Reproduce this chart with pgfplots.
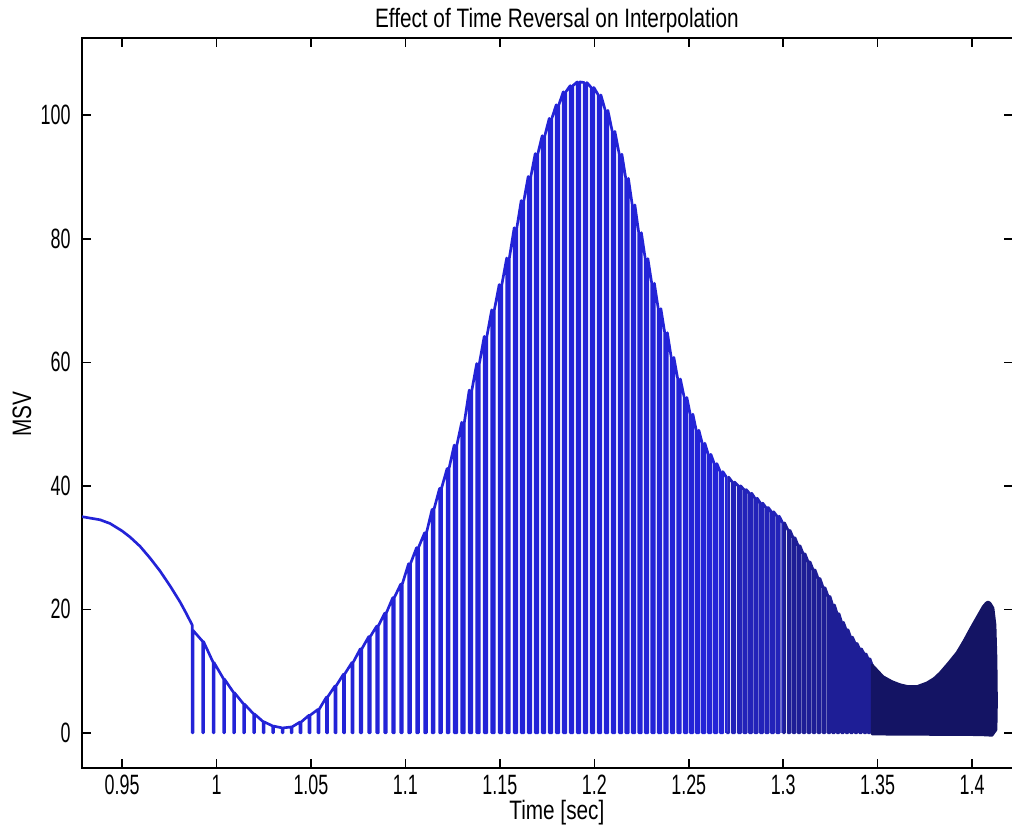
\documentclass[border=0pt]{standalone}
\usepackage{pgfplots}
\pgfplotsset{compat=1.18}
\usepackage{fontspec}
\setmainfont{Liberation Sans}[FakeStretch=0.78]
\newfontfamily\tickfont{Liberation Sans}[FakeStretch=0.64]
\definecolor{blueA}{RGB}{35,35,215}
\definecolor{blueB}{RGB}{35,35,185}
\definecolor{blueC}{RGB}{30,30,150}
\definecolor{navy}{RGB}{20,20,100}
\begin{document}
\begin{tikzpicture}
\path[use as bounding box] (-30.8pt,-22.1pt) rectangle (349.2pt,288.4pt);
\begin{axis}[
  scale only axis, width=349.6pt, height=274.1pt,
  xmin=0.9288, xmax=1.4217, ymin=-5.7, ymax=112.5,
  xtick={0.95,1,1.05,1.1,1.15,1.2,1.25,1.3,1.35,1.4},
  ytick={0,20,40,60,80,100},
  scaled ticks=false,
  /pgf/number format/assume math mode=true,
  tick align=inside, major tick length=3.5pt,
  axis line style={line width=0.6pt},
  tick style={line width=0.6pt, black},
  tick label style={font=\tickfont\fontsize{10.5}{12}\selectfont},
  xticklabel style={anchor=base, yshift=-10.1pt, inner sep=0pt},
  yticklabel style={anchor=east, xshift=-4.1pt, inner sep=0pt},
  title={Effect of Time Reversal on Interpolation},
  every axis title/.style={at={(axis description cs:0.51,1.0139)}, anchor=base, inner sep=0pt, font=\fontsize{10}{12}\selectfont},
  xlabel={Time [sec]},
  xlabel style={at={(axis description cs:0.51,-0.0700)}, anchor=base, inner sep=0pt, font=\fontsize{10}{12}\selectfont},
  ylabel={MSV},
  ylabel style={at={(axis description cs:-0.0644,0.485)}, anchor=center, inner sep=0pt, font=\fontsize{10}{12}\selectfont},
]
% segment A
\addplot[color=blueA, line width=1pt, line join=round] coordinates {
(0.9288,35.0) (0.93835,34.5) (0.94365,33.9) (0.95,32.7) (0.95424,31.7) (0.95953,30.2) (0.96482,28.3) (0.97012,26.2) (0.97541,23.8) (0.9807,21.2) (0.98388,19.4) (0.98715,17.45)
(0.98715,0) (0.98755,0) (0.98755,16.6)
(0.99268,14.8) (0.99268,0) (0.99308,0) (0.99308,14.8)
(0.99824,11.4) (0.99824,0) (0.99864,0) (0.99864,11.4)
(1.00380,8.7) (1.00380,0) (1.00420,0) (1.00420,8.7)
(1.00909,6.5) (1.00909,0) (1.00949,0) (1.00949,6.5)
(1.01438,4.65) (1.01438,0) (1.01478,0) (1.01478,4.65)
(1.01968,3.05) (1.01968,0) (1.02008,0) (1.02008,3.05)
(1.02471,1.8) (1.02471,0) (1.02511,0) (1.02511,1.8)
(1.02974,1.1) (1.02974,0) (1.03014,0) (1.03014,1.1)
(1.03477,0.8) (1.03477,0) (1.03517,0) (1.03517,0.8)
(1.03953,0.95) (1.03953,0) (1.03993,0) (1.03993,0.95)
(1.04419,1.75) (1.04419,0) (1.04479,0) (1.04479,1.75)
(1.04896,2.85) (1.04896,0) (1.04956,0) (1.04956,2.85)
(1.05372,3.8) (1.05372,0) (1.05432,0) (1.05432,3.8)
(1.05822,5.8) (1.05822,0) (1.05882,0) (1.05882,5.8)
(1.06272,7.6) (1.06272,0) (1.06332,0) (1.06332,7.6)
(1.06722,9.5) (1.06722,0) (1.06782,0) (1.06782,9.5)
(1.07172,11.4) (1.07172,0) (1.07232,0) (1.07232,11.4)
(1.07612,13.6) (1.07612,0) (1.07692,0) (1.07692,13.6)
(1.08062,15.6) (1.08062,0) (1.08142,0) (1.08142,15.6)
(1.08486,17.3) (1.08486,0) (1.08566,0) (1.08566,17.3)
(1.08909,19.4) (1.08909,0) (1.08989,0) (1.08989,19.4)
(1.09333,21.9) (1.09333,0) (1.09413,0) (1.09413,21.9)
(1.09756,24.1) (1.09756,0) (1.09836,0) (1.09836,24.1)
(1.10170,27.4) (1.10170,0) (1.10270,0) (1.10270,27.4)
(1.10593,30.0) (1.10593,0) (1.10693,0) (1.10693,30.0)
(1.11017,32.4) (1.11017,0) (1.11117,0) (1.11117,32.4)
(1.11414,36.2) (1.11414,0) (1.11514,0) (1.11514,36.2)
(1.11811,39.6) (1.11811,0) (1.11911,0) (1.11911,39.6)
(1.12208,42.8) (1.12208,0) (1.12308,0) (1.12308,42.8)
(1.12585,46.6) (1.12585,0) (1.12725,0) (1.12725,46.6)
(1.12982,50.3) (1.12982,0) (1.13122,0) (1.13122,50.3)
(1.13379,55.5) (1.13379,0) (1.13519,0) (1.13519,55.5)
(1.13776,59.8) (1.13776,0) (1.13916,0) (1.13916,59.8)
(1.14173,64.2) (1.14173,0) (1.14313,0) (1.14313,64.2)
(1.14570,68.5) (1.14570,0) (1.14710,0) (1.14710,68.5)
(1.14967,72.6) (1.14967,0) (1.15107,0) (1.15107,72.6)
(1.15364,76.9) (1.15364,0) (1.15504,0) (1.15504,76.9)
(1.15761,81.8) (1.15761,0) (1.15901,0) (1.15901,81.8)
(1.16132,86.2) (1.16132,0) (1.16272,0) (1.16272,86.2)
(1.16502,90.1) (1.16502,0) (1.16642,0) (1.16642,90.1)
(1.16873,93.8) (1.16873,0) (1.17013,0) (1.17013,93.8)
(1.17243,96.7) (1.17243,0) (1.17383,0) (1.17383,96.7)
(1.17614,99.5) (1.17614,0) (1.17754,0) (1.17754,99.5)
(1.17985,101.7) (1.17985,0) (1.18125,0) (1.18125,101.7)
(1.18355,103.8) (1.18355,0) (1.18495,0) (1.18495,103.8)
(1.18726,104.8) (1.18726,0) (1.18866,0) (1.18866,104.8)
(1.19096,105.4) (1.19096,0) (1.19236,0) (1.19236,105.4)
(1.19467,105.3) (1.19467,0) (1.19607,0) (1.19607,105.3)
(1.19837,104.5) (1.19837,0) (1.19977,0) (1.19977,104.5)
(1.20208,103.3) (1.20208,0) (1.20348,0) (1.20348,103.3)
(1.20579,100.8) (1.20579,0) (1.20719,0) (1.20719,100.8)
(1.20949,97.4) (1.20949,0) (1.21089,0) (1.21089,97.4)
(1.21320,93.7) (1.21320,0) (1.21460,0) (1.21460,93.7)
(1.21664,89.8) (1.21664,0) (1.21804,0) (1.21804,89.8)
(1.22008,85.5) (1.22008,0) (1.22148,0) (1.22148,85.5)
(1.22352,81.0) (1.22352,0) (1.22492,0) (1.22492,81.0)
(1.22696,76.8) (1.22696,0) (1.22836,0) (1.22836,76.8)
(1.23040,72.8) (1.23040,0) (1.23180,0) (1.23180,72.8)
(1.23384,68.7) (1.23384,0) (1.23524,0) (1.23524,68.7)
(1.23728,64.8) (1.23728,0) (1.23868,0) (1.23868,64.8)
(1.24072,60.8) (1.24072,0) (1.24212,0) (1.24212,60.8)
(1.24417,57.3) (1.24417,0) (1.24557,0) (1.24557,57.3)
(1.24761,54.3) (1.24761,0) (1.24901,0) (1.24901,54.3)
(1.25078,51.6) (1.25078,0) (1.25218,0) (1.25218,51.6)
(1.25396,49.0) (1.25396,0) (1.25536,0) (1.25536,49.0)
(1.25713,46.9) (1.25713,0) (1.25853,0) (1.25853,46.9)
(1.26031,45.1) (1.26031,0) (1.26171,0) (1.26171,45.1)
(1.26349,43.6) (1.26349,0) (1.26489,0) (1.26489,43.6)
(1.26666,42.3) (1.26666,0) (1.26806,0) (1.26806,42.3)
(1.26994,41.4) (1.26994,0)
};
% segment B
\addplot[color=blueB, line width=1pt, line join=round] coordinates {
(1.26994,0) (1.27114,0) (1.27114,41.4)
(1.27312,40.6) (1.27312,0) (1.27432,0) (1.27432,40.6)
(1.27629,40.0) (1.27629,0) (1.27749,0) (1.27749,40.0)
(1.27920,39.4) (1.27920,0) (1.28040,0) (1.28040,39.4)
(1.28212,38.8) (1.28212,0) (1.28332,0) (1.28332,38.8)
(1.28503,38.0) (1.28503,0) (1.28623,0) (1.28623,38.0)
(1.28794,37.2) (1.28794,0) (1.28914,0) (1.28914,37.2)
(1.29085,36.5) (1.29085,0) (1.29205,0) (1.29205,36.5)
(1.29376,35.8) (1.29376,0) (1.29496,0) (1.29496,35.8)
(1.29667,35.1) (1.29667,0) (1.29787,0) (1.29787,35.1)
(1.29969,34.0) (1.29969,0)
};
% segment C
\addplot[color=blueC, line width=1pt, line join=round] coordinates {
(1.29969,0) (1.30069,0) (1.30069,34.0)
(1.30260,32.8) (1.30260,0) (1.30360,0) (1.30360,32.8)
(1.30524,31.6) (1.30524,0) (1.30624,0) (1.30624,31.6)
(1.30789,30.3) (1.30789,0) (1.30889,0) (1.30889,30.3)
(1.31054,29.0) (1.31054,0) (1.31154,0) (1.31154,29.0)
(1.31318,27.7) (1.31318,0) (1.31418,0) (1.31418,27.7)
(1.31583,26.4) (1.31583,0) (1.31683,0) (1.31683,26.4)
(1.31848,25.0) (1.31848,0) (1.31948,0) (1.31948,25.0)
(1.32113,23.5) (1.32113,0) (1.32213,0) (1.32213,23.5)
(1.32377,22.1) (1.32377,0) (1.32477,0) (1.32477,22.1)
(1.32615,20.7) (1.32615,0) (1.32715,0) (1.32715,20.7)
(1.32854,19.3) (1.32854,0) (1.32954,0) (1.32954,19.3)
(1.33092,17.9) (1.33092,0) (1.33192,0) (1.33192,17.9)
(1.33330,16.7) (1.33330,0) (1.33430,0) (1.33430,16.7)
(1.33568,15.5) (1.33568,0) (1.33668,0) (1.33668,15.5)
(1.33807,14.5) (1.33807,0) (1.33907,0) (1.33907,14.5)
(1.34045,13.6) (1.34045,0) (1.34145,0) (1.34145,13.6)
(1.34283,12.8) (1.34283,0) (1.34383,0) (1.34383,12.8)
(1.34495,12.0) (1.34495,0) (1.34595,0) (1.34595,12.0)
(1.34706,11.0) (1.34706,0)
};
% dense final region
\addplot[fill=navy, draw=navy, line width=1pt, line join=round] coordinates {
(1.34706,0) (1.34706,11.0) (1.35286,9.1) (1.35762,8.3) (1.36186,7.8) (1.36609,7.5) (1.37086,7.5) (1.37615,8.1) (1.37986,8.8) (1.38303,9.7) (1.38727,11.2) (1.39203,13.0) (1.39574,14.9) (1.39891,16.7) (1.40262,18.7) (1.40580,20.4) (1.40738,21.0) (1.40844,21.2) (1.40950,21.0) (1.41109,20.2) (1.41215,17.5) (1.41268,12) (1.41294,5) (1.41268,0.5) (1.41056,-0.4) (1.40421,-0.3) (1.34706,-0.2)
} -- cycle;
\end{axis}
\end{tikzpicture}
\end{document}
